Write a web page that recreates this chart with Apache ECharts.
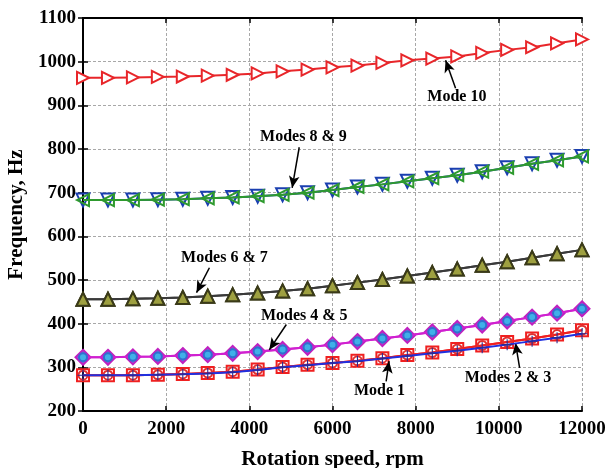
<!DOCTYPE html>
<html>
<head>
<meta charset="utf-8">
<style>
    html, body { margin: 0; padding: 0; background: #fff; }
    #chart { width: 607px; height: 468px; }
</style>
<script src="https://cdn.jsdelivr.net/npm/echarts@6/dist/echarts.min.js"></script>
</head>
<body>
<div id="chart"></div>
<script>
// rotation speed, rpm
var speeds = [0, 600, 1200, 1800, 2400, 3000, 3600, 4200, 4800, 5400, 6000,
    6600, 7200, 7800, 8400, 9000, 9600, 10200, 10800, 11400, 12000];
// frequencies, Hz
var mode1 = [282, 282, 282, 283, 284, 286, 289, 294, 300, 305, 310, 314, 320, 326, 332, 338, 345, 352, 360, 368, 377];
var mode2 = [282, 282, 282, 283, 285, 287, 290, 295, 301, 306, 310, 315, 321, 328, 334, 342, 350, 358, 366, 375, 385];
var mode3 = [282, 282, 282, 283, 285, 287, 290, 295, 301, 306, 310, 315, 321, 328, 334, 342, 350, 358, 366, 375, 385];
var mode4 = [323, 323, 324, 325, 327, 329, 332, 336, 341, 346, 352, 359, 366, 373, 381, 389, 397, 406, 415, 424, 434];
var mode5 = [323, 323, 324, 325, 327, 329, 332, 336, 341, 346, 352, 359, 366, 373, 381, 389, 397, 406, 415, 424, 434];
var mode6 = [456, 456, 457, 458, 460, 463, 466, 470, 475, 480, 487, 494, 501, 509, 517, 525, 534, 542, 551, 560, 569];
var mode7 = [456, 456, 457, 458, 460, 463, 466, 470, 475, 480, 487, 494, 501, 509, 517, 525, 534, 542, 551, 560, 569];
var mode8 = [683, 683, 683, 684, 685, 687, 689, 692, 695, 700, 706, 713, 719, 726, 733, 740, 748, 757, 766, 774, 783];
var mode9 = [683, 683, 683, 684, 685, 687, 689, 692, 695, 700, 706, 713, 719, 726, 733, 740, 748, 757, 766, 774, 783];
var mode10 = [963, 963, 964, 965, 966, 968, 970, 973, 978, 982, 987, 991, 997, 1003, 1007, 1012, 1020, 1027, 1033, 1042, 1051];

// annotations: text position and arrow (tail -> tip), data coordinates
var notes = [
    { text: 'Mode 10', at: [8990, 919], from: [8960, 939], to: [8720, 1003] },
    { text: 'Modes 8 & 9', at: [5300, 827], from: [5200, 804], to: [5030, 711] },
    { text: 'Modes 6 & 7', at: [3400, 551], from: [3040, 528], to: [2730, 471] },
    { text: 'Modes 4 & 5', at: [5320, 418], from: [4890, 398], to: [4480, 340] },
    { text: 'Mode 1', at: [7130, 245], from: [7290, 268], to: [7360, 314] },
    { text: 'Modes 2 & 3', at: [10220, 277], from: [10500, 299], to: [10400, 356] }
];

function pairs(ys) {
    return speeds.map(function (x, i) { return [x, ys[i]]; });
}

var serif = '"Liberation Serif", "Times New Roman", serif';

function mode(name, ys, lineColor, symbol, size, rotate, border, fill, z) {
    return {
        name: name,
        type: 'line',
        data: pairs(ys),
        symbol: symbol,
        symbolSize: size,
        symbolRotate: rotate,
        z: z,
        lineStyle: { color: lineColor, width: 2 },
        itemStyle: { color: fill, borderColor: border, borderWidth: 2 },
        emphasis: { disabled: true }
    };
}

var grid = { show: true, lineStyle: { color: '#a8a8a8', type: [3, 2], width: 1 } };
var tick = { inside: true, length: 5, lineStyle: { color: '#000', width: 1.5 } };
var frame = { lineStyle: { color: '#000', width: 2 } };

var myChart = echarts.init(document.getElementById('chart'));

var option = {
    backgroundColor: '#fff',
    animation: false,
    grid: { left: 83, right: 25, top: 18, bottom: 57, outerBoundsMode: 'none', containLabel: false },
    xAxis: [{
        type: 'value',
        min: 0,
        max: 12000,
        interval: 2000,
        name: 'Rotation speed, rpm',
        nameLocation: 'middle',
        nameGap: 38,
        nameTextStyle: { fontFamily: serif, fontWeight: 'bold', fontSize: 21, color: '#000' },
        axisLine: frame,
        axisTick: tick,
        axisLabel: { fontFamily: serif, fontWeight: 'bold', fontSize: 19, color: '#000', margin: 9,
            formatter: function (v) { return String(v); } },
        splitLine: grid
    }, {
        type: 'value',
        position: 'top',
        min: 0,
        max: 12000,
        interval: 2000,
        axisLine: frame,
        axisTick: tick,
        axisLabel: { show: false },
        splitLine: { show: false }
    }],
    yAxis: [{
        type: 'value',
        min: 200,
        max: 1100,
        interval: 100,
        name: 'Frequency, Hz',
        nameLocation: 'middle',
        nameGap: 49,
        nameTextStyle: { fontFamily: serif, fontWeight: 'bold', fontSize: 21, color: '#000' },
        axisLine: frame,
        axisTick: tick,
        axisLabel: { fontFamily: serif, fontWeight: 'bold', fontSize: 19, color: '#000', margin: 7,
            formatter: function (v) { return String(v); } },
        splitLine: grid
    }, {
        type: 'value',
        position: 'right',
        min: 200,
        max: 1100,
        interval: 100,
        axisLine: frame,
        axisTick: tick,
        axisLabel: { show: false },
        splitLine: { show: false }
    }],
    series: [
        mode('Mode 10', mode10, '#e8262a', 'triangle', 12, -90, '#e8262a', '#fff', 3),
        mode('Mode 8', mode8, '#1a3fb0', 'triangle', 13, 180, '#1a3fb0', 'rgba(255,255,255,0)', 3),
        mode('Mode 9', mode9, '#2e9a2e', 'triangle', 12, 90, '#2e9a2e', 'rgba(255,255,255,0)', 4),
        mode('Mode 6', mode6, '#3a3a3a', 'triangle', 13, 0, '#3a3a18', '#9ea040', 3),
        mode('Mode 7', mode7, '#3a3a3a', 'triangle', 13, 0, '#3a3a18', '#9ea040', 4),
        mode('Mode 4', mode4, '#d020d0', 'diamond', 15, 0, '#c020c0', '#7a6ad8', 3),
        mode('Mode 5', mode5, '#d020d0', 'circle', 8, 0, '#3070d0', '#40b0e8', 4),
        mode('Mode 2', mode2, '#f02020', 'rect', 12, 0, '#f02020', 'rgba(255,255,255,0)', 4),
        mode('Mode 3', mode3, '#f02020', 'circle', 9, 0, '#e03030', 'rgba(255,255,255,0)', 4),
        {
            name: 'Mode 1',
            type: 'line',
            data: pairs(mode1),
            symbol: 'path://M-1,-10 L1,-10 L1,-1 L10,-1 L10,1 L1,1 L1,10 L-1,10 L-1,1 L-10,1 L-10,-1 L-1,-1 Z',
            symbolSize: 11,
            z: 5,
            lineStyle: { color: '#2030e0', width: 2 },
            itemStyle: { color: '#2a2a90', borderWidth: 0 },
            emphasis: { disabled: true }
        },
        {
            name: 'notes',
            type: 'line',
            data: [],
            z: 10,
            markLine: {
                silent: true,
                symbol: ['none', 'arrow'],
                symbolSize: [8, 12],
                label: { show: false },
                lineStyle: { color: '#000', width: 1.5, type: 'solid' },
                data: notes.map(function (n) {
                    return [{ coord: n.from }, { coord: n.to }];
                })
            },
            markPoint: {
                silent: true,
                symbol: 'circle',
                symbolSize: 0,
                label: {
                    show: true,
                    position: 'inside',
                    fontFamily: serif,
                    fontWeight: 'bold',
                    fontSize: 16,
                    color: '#000',
                    formatter: function (p) { return p.name; }
                },
                data: notes.map(function (n) {
                    return { name: n.text, coord: n.at };
                })
            }
        }
    ]
};

myChart.setOption(option);
</script>
</body>
</html>
